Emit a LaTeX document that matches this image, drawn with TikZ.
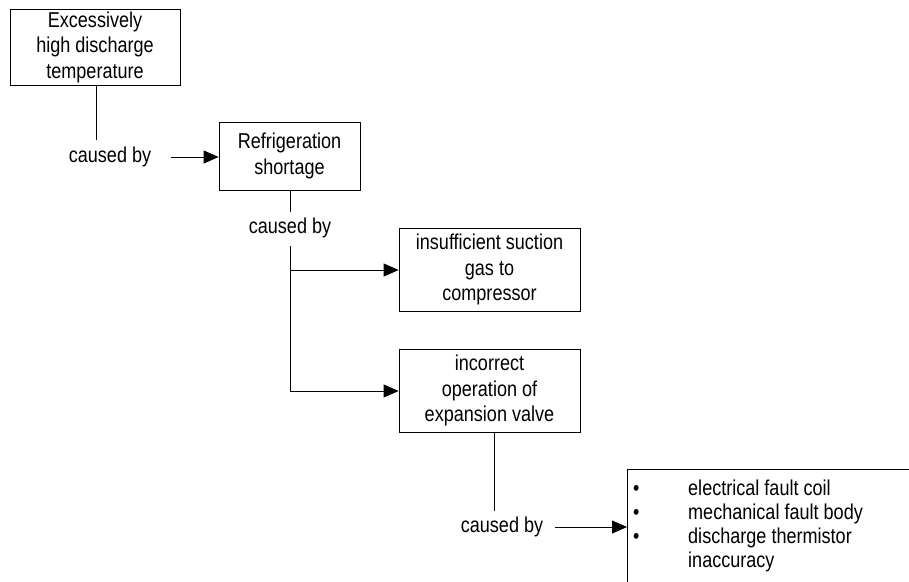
\documentclass[tikz,border=0pt]{standalone}
\usepackage{fontspec}
\setmainfont[FakeStretch=0.84]{Liberation Sans}
\usetikzlibrary{arrows.meta}
\begin{document}
\begin{tikzpicture}[x=1pt,y=-1pt,
  txt/.style={font=\fontsize{21.5}{25.5}\selectfont},
  box/.style={draw, line width=0.8pt, align=center, inner sep=0pt, txt},
  lab/.style={inner sep=0pt, txt},
  conn/.style={line width=0.8pt},
  arr/.style={conn, -{Triangle[length=15pt,width=13pt]}}]
\useasboundingbox (0,0) rectangle (909,581);
\clip (0,0) rectangle (909,581);
% boxes
\node[box, minimum width=170pt, minimum height=76pt] (b1) at (95,47)
  {Excessively\\high discharge\\temperature};
\node[box, minimum width=141pt, minimum height=68pt] (b2) at (289.5,156)
  {Refrigeration\\shortage};
\node[box, minimum width=181pt, minimum height=83pt] (b3) at (489.5,269.5)
  {insufficient suction\\gas to\\compressor};
\node[box, minimum width=181pt, minimum height=83pt] (b4) at (489.5,390.5)
  {incorrect\\operation of\\expansion valve};
\node[draw, line width=0.8pt, inner sep=0pt, minimum width=400pt, minimum height=200pt, anchor=north west] (b5) at (627,469) {};
\node[lab, anchor=north west, align=left] (list) at (633,478)
  {\fontsize{21.5}{24}\selectfont
   \begin{tabular}{@{}p{55pt}@{}l@{}}
   • & electrical fault coil\\
   • & mechanical fault body\\
   • & discharge thermistor\\
     & inaccuracy
   \end{tabular}};
% labels
\node[lab] (c1) at (110,157) {caused by};
\node[lab] (c2) at (290,228) {caused by};
\node[lab] (c3) at (502,527) {caused by};
% connector points
\coordinate (p1) at (96,140);
\coordinate (p2) at (290,212);
\coordinate (p3) at (290,246);
\coordinate (p4) at (290,270);
\coordinate (p5) at (290,391);
\coordinate (p6) at (494,511);
% connectors
\draw[conn] (b1.south -| p1) -- (p1);
\draw[arr] ([xshift=20pt]c1.east) -- (b2.west |- c1);
\draw[conn] (b2.south -| p2) -- (p2);
\draw[conn] (p3) -- (p5);
\draw[arr] (p4) -- (b3.west |- p4);
\draw[arr] (p5) -- (b4.west |- p5);
\draw[conn] (b4.south -| p6) -- (p6);
\draw[arr] ([xshift=12pt]c3.east) -- (b5.west |- c3);
\end{tikzpicture}
\end{document}
